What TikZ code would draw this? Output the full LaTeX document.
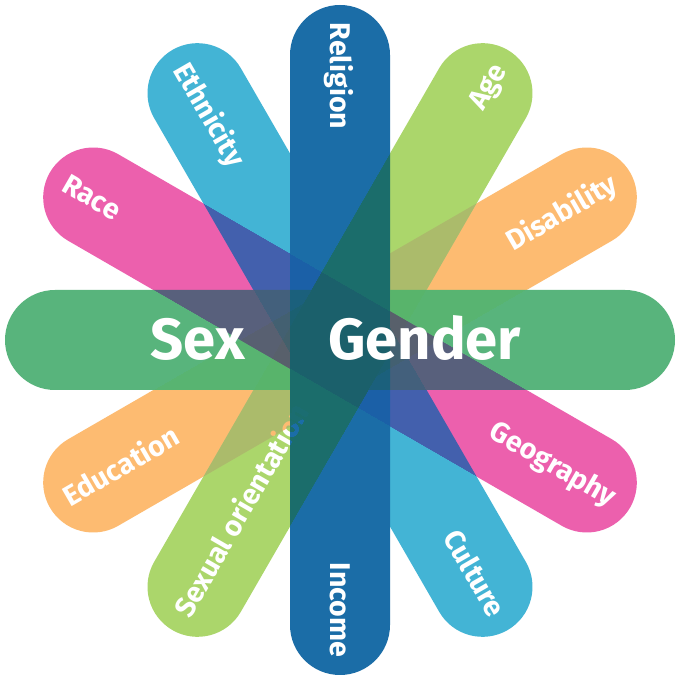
\documentclass[tikz,border=0pt]{standalone}
\usepackage{fontspec}
\setmainfont{Fira Sans}
\usetikzlibrary{calc}

\definecolor{relblue}{HTML}{1B6DA7}
\definecolor{sexgreen}{HTML}{58B47C}
\definecolor{ethblue}{HTML}{43B4D5}
\definecolor{racepink}{HTML}{EC60AD}
\definecolor{agegreen}{HTML}{ABD66B}
\definecolor{disorange}{HTML}{FDBB71}

\begin{document}
\begin{tikzpicture}[
    x=1pt, y=1pt,
    band/.style={fill=#1, rounded corners=50pt, minimum width=670pt,
        minimum height=100pt, inner sep=0pt, blend mode=darken},
    tag/.style={text=white, font=\fontsize{28.5}{32}\selectfont\bfseries,
        inner sep=0pt, text height=20pt, text depth=0pt},
    bigtag/.style={text=white, font=\fontsize{58}{62}\selectfont\bfseries,
        inner sep=0pt, text height=40pt, text depth=0pt}
  ]
    \fill[white] (0,0) rectangle (680,680);
    \coordinate (hub) at (340,340);
    % bands, each followed by its two labels
    \node[band=agegreen, rotate=60] (age) at (hub) {};
    \node[tag, rotate=60, anchor=east] (agetxt) at ($(age.east)!18pt!(age.center)$) {Age};
    \node[tag, rotate=60, anchor=west] (sexortxt) at ($(age.west)!18pt!(age.center)$) {Sexual orientation};
    \node[band=disorange, rotate=30] (dis) at (hub) {};
    \node[tag, rotate=30, anchor=east] (distxt) at ($(dis.east)!18pt!(dis.center)$) {Disability};
    \node[tag, rotate=30, anchor=west] (edutxt) at ($(dis.west)!18pt!(dis.center)$) {Education};
    \node[band=racepink, rotate=-30] (race) at (hub) {};
    \node[tag, rotate=-30, anchor=west] (racetxt) at ($(race.west)!18pt!(race.center)$) {Race};
    \node[tag, rotate=-30, anchor=east] (geotxt) at ($(race.east)!18pt!(race.center)$) {Geography};
    \node[band=ethblue, rotate=-60] (eth) at (hub) {};
    \node[tag, rotate=-60, anchor=west] (ethtxt) at ($(eth.west)!18pt!(eth.center)$) {Ethnicity};
    \node[tag, rotate=-60, anchor=east] (culttxt) at ($(eth.east)!18pt!(eth.center)$) {Culture};
    \node[band=relblue, rotate=-90] (rel) at (hub) {};
    \node[tag, rotate=-90, anchor=west] (reltxt) at ($(rel.west)!18pt!(rel.center)$) {Religion};
    \node[tag, rotate=-90, anchor=east] (inctxt) at ($(rel.east)!18pt!(rel.center)$) {Income};
    \node[band=sexgreen] (sex) at (hub) {};
    \node[bigtag, anchor=east] (sextxt) at ($(sex.center)+(-95,0)$) {Sex};
    \node[bigtag, anchor=west] (gentxt) at ($(sex.center)+(-12,0)$) {Gender};
\end{tikzpicture}
\end{document}
